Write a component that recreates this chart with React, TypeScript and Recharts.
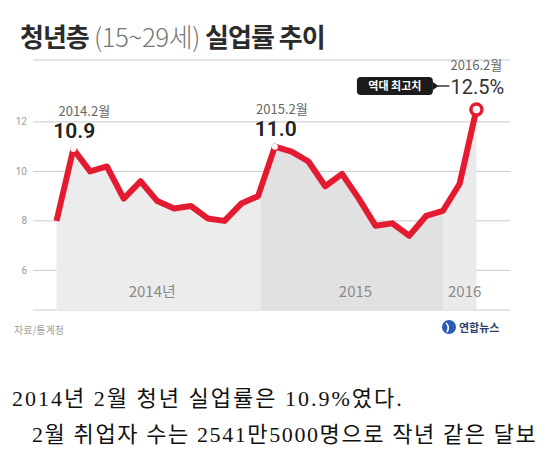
import { ComposedChart, Area, Line, XAxis, YAxis, CartesianGrid } from "recharts";

// 청년층(15~29세) 월별 실업률, 2014.1 ~ 2016.2
const months = [
  "2014.1", "2014.2", "2014.3", "2014.4", "2014.5", "2014.6", "2014.7", "2014.8", "2014.9", "2014.10", "2014.11", "2014.12",
  "2015.1", "2015.2", "2015.3", "2015.4", "2015.5", "2015.6", "2015.7", "2015.8", "2015.9", "2015.10", "2015.11", "2015.12",
  "2016.1", "2016.2",
];
const rates = [
  8.0, 10.9, 10.0, 10.2, 8.9, 9.6, 8.8, 8.5, 8.6, 8.1, 8.0, 8.7,
  9.0, 11.0, 10.8, 10.4, 9.4, 9.9, 8.9, 7.8, 7.9, 7.4, 8.2, 8.4,
  9.5, 12.5,
];
const yTicks = [6, 8, 10, 12];

// year bands (month index where each band starts) and their labels
const yearLabels = ["2014년", "2015", "2016"];
const yearLabelPos = [5.7, 17.8, 24.3];
const bandStarts = [0, 12.2, 23];

// annotated points
const annotIdx = [1, 13, 25];
const annotDate = ["2014.2월", "2015.2월", "2016.2월"];
const annotValue = ["10.9", "11.0", "12.5%"];

const data = months.map((m, i) => ({ idx: i, month: m, rate: rates[i] }));

const RED = "#e41b30";
const SANS = "'Noto Sans CJK KR', Roboto, sans-serif";
const NUM = "Roboto, 'Noto Sans CJK KR', sans-serif";
const SERIF = "'Liberation Serif', 'Noto Sans CJK KR', serif";
const bandColors = ["#ececec", "#e1e1e1", "#eaeaea"];
const dateDx = [11, 7, 0];

const renderDot = (props: any) => {
  const { cx, cy, index } = props;
  const a = annotIdx.indexOf(index);
  if (a < 0 || cx == null) return <g key={`d${index}`} />;
  const last = a === annotIdx.length - 1;
  return (
    <g key={`d${index}`}>
      {last ? (
        <circle cx={cx} cy={cy} r={5.5} fill="#fff" stroke={RED} strokeWidth={3.5} />
      ) : (
        <circle cx={cx} cy={cy} r={3} fill="#fff" />
      )}
      <text
        x={cx + dateDx[a]}
        y={last ? cy - 40 : cy - 33}
        textAnchor="middle"
        fontSize={13}
        fill="#666"
        fontFamily={SANS}
      >
        {annotDate[a]}
      </text>
      <text
        x={cx + 1}
        y={last ? cy - 16 : cy - 11}
        textAnchor="middle"
        fontSize={last ? 20 : 21}
        fontWeight={last ? 400 : 600}
        fill={last ? "#333" : "#222"}
        fontFamily={NUM}
      >
        {annotValue[a]}
      </text>
      {last && (
        <g>
          <rect x={cx - 119.5} y={cy - 32.5} width={76} height={18} rx={4} fill="#1b1b1b" />
          <text
            x={cx - 81.5}
            y={cy - 19.5}
            textAnchor="middle"
            fontSize={11}
            fontWeight={700}
            fill="#fff"
            fontFamily={SANS}
          >
            역대 최고치
          </text>
          <polygon
            points={`${cx - 43.5},${cy - 27.5} ${cx - 43.5},${cy - 19.5} ${cx - 38},${cy - 23.5}`}
            fill="#1b1b1b"
          />
          <line x1={cx - 40} y1={cy - 23.5} x2={cx - 27} y2={cy - 23.5} stroke="#333" strokeWidth={1.5} />
        </g>
      )}
    </g>
  );
};

const YearTick = (props: any) => {
  const { x, y, payload } = props;
  const i = yearLabelPos.indexOf(payload.value);
  return (
    <text x={x} y={y - 13} textAnchor="middle" fontSize={15} fill="#8a8a8a" fontFamily={SANS}>
      {yearLabels[i]}
    </text>
  );
};

export default function App() {
  const n = rates.length - 1;
  const stops: { offset: number; color: string }[] = [];
  bandStarts.forEach((s, i) => {
    const end = i + 1 < bandStarts.length ? bandStarts[i + 1] : n;
    stops.push({ offset: s / n, color: bandColors[i] });
    stops.push({ offset: end / n, color: bandColors[i] });
  });

  return (
    <div
      style={{
        position: "fixed",
        left: 0,
        top: 0,
        width: 560,
        height: 450,
        overflow: "hidden",
        background: "#fff",
      }}
    >
      <div
        style={{
          position: "absolute",
          left: 20,
          top: 17,
          fontFamily: SANS,
          fontSize: 26,
          color: "#2b2b2b",
          whiteSpace: "nowrap",
          letterSpacing: -1,
        }}
      >
        <span style={{ fontWeight: 700 }}>청년층</span>
        <span style={{ fontWeight: 300, color: "#777", fontSize: 26, letterSpacing: -0.5 }}> (15~29세) </span>
        <span style={{ fontWeight: 700 }}>실업률 추이</span>
      </div>

      <div style={{ position: "absolute", left: 0, top: 0 }}>
        <ComposedChart width={560} height={320} data={data} margin={{ top: 60, right: 50, left: 13, bottom: 0 }}>
          <defs>
            <linearGradient id="bandFill" x1="0" y1="0" x2="1" y2="0">
              {stops.map((s, i) => (
                <stop key={i} offset={s.offset} stopColor={s.color} />
              ))}
            </linearGradient>
          </defs>
          <CartesianGrid vertical={false} stroke="#c9c9c9" />
          <XAxis
            dataKey="idx"
            type="number"
            domain={[-1.4, 27]}
            ticks={yearLabelPos}
            axisLine={false}
            tickLine={false}
            tickSize={0}
            tickMargin={0}
            height={10}
            tick={<YearTick />}
            interval={0}
          />
          <YAxis
            type="number"
            domain={[4.4, 14.5]}
            ticks={yTicks}
            width={20}
            axisLine={false}
            tickLine={false}
            tickSize={0}
            tickMargin={6}
            tick={{ fontSize: 10, fill: "#9a9a9a", fontFamily: NUM }}
          />
          <Area
            type="linear"
            dataKey="rate"
            baseValue={4.4}
            stroke="none"
            fill="url(#bandFill)"
            fillOpacity={1}
            isAnimationActive={false}
          />
          <Line
            type="linear"
            dataKey="rate"
            stroke={RED}
            strokeWidth={6}
            strokeLinejoin="round"
            dot={renderDot}
            activeDot={false}
            isAnimationActive={false}
          />
        </ComposedChart>
      </div>

      <div
        style={{
          position: "absolute",
          left: 14,
          top: 322,
          fontSize: 10,
          color: "#a0a0a0",
          fontFamily: SANS,
        }}
      >
        자료/통계청
      </div>
      <div
        style={{
          position: "absolute",
          left: 441,
          top: 319,
          display: "flex",
          alignItems: "center",
          fontFamily: SANS,
        }}
      >
        <svg width={16} height={16}>
          <circle cx={8} cy={8} r={7} fill="#2a5bb5" />
          <path d="M5 4 Q9 8 6 13" stroke="#fff" strokeWidth={1.6} fill="none" />
        </svg>
        <span style={{ fontSize: 11, fontWeight: 700, color: "#2a3f6e", marginLeft: 2 }}>연합뉴스</span>
      </div>

      <div
        style={{
          position: "absolute",
          left: 12,
          top: 386,
          fontFamily: SERIF,
          fontSize: 22,
          lineHeight: "26px",
          letterSpacing: 2,
          color: "#111",
          whiteSpace: "nowrap",
        }}
      >
        2014년 2월 청년 실업률은 10.9%였다.
      </div>
      <div
        style={{
          position: "absolute",
          left: 32,
          top: 422,
          fontFamily: SERIF,
          fontSize: 22,
          lineHeight: "26px",
          letterSpacing: 1.6,
          color: "#111",
          whiteSpace: "nowrap",
        }}
      >
        2월 취업자 수는 2541만5000명으로 작년 같은 달보
      </div>
    </div>
  );
}
